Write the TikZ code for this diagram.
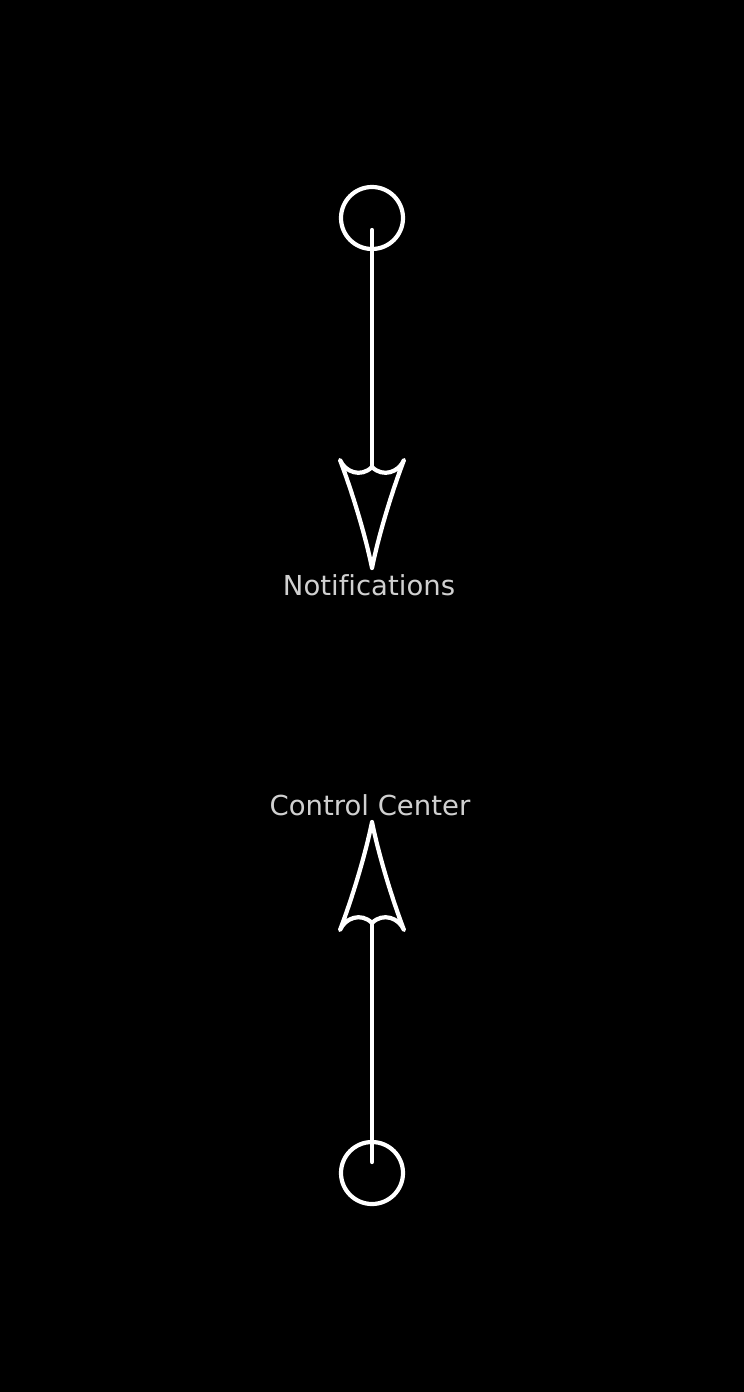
\documentclass[tikz,border=0pt]{standalone}
\usepackage{fontspec}
\setmainfont{DejaVu Sans}[Ligatures=NoCommon]
\usepackage{tikz}

\begin{document}
\begin{tikzpicture}[x=1pt, y=-1pt, line width=4.2pt,
                    ring/.style={circle, draw=white, minimum size=62pt, inner sep=0pt},
                    shaft/.style={draw=white, line cap=round},
                    caption/.style={text=captiongrey, font=\fontsize{27.5}{32}\selectfont, inner sep=0pt, anchor=base},
                    spearhead/.pic={
                        \draw[white, fill=black, line join=round]
                            (-108,32) .. controls (-74,19) and (-30,6) .. (0,0)
                            .. controls (-30,-6) and (-74,-19) .. (-108,-32)
                            .. controls (-96,-27) and (-90,-11) .. (-101,0)
                            .. controls (-90,11) and (-96,27) .. (-108,32) -- cycle;
                    }]
        \definecolor{captiongrey}{HTML}{D0D0D0}
        \fill[black] (0,0) rectangle (744,1392);

        % upper arrow
        \node[ring] (notifring) at (372,218) {};
        \coordinate (notifstart) at (372,230);
        \coordinate (notiftip) at (372,568);
        \draw[shaft] (notifstart) -- (notiftip);
        \pic[rotate=-90] at (notiftip) {spearhead};
        \node[caption] (notiflabel) at (369,595) {Notifications};

        % lower arrow
        \node[ring] (controlring) at (372,1173) {};
        \coordinate (controlstart) at (372,1162);
        \coordinate (controltip) at (372,822);
        \draw[shaft] (controlstart) -- (controltip);
        \pic[rotate=90] at (controltip) {spearhead};
        \node[caption] (controllabel) at (370,815) {Control Center};
    \end{tikzpicture}
\end{document}
